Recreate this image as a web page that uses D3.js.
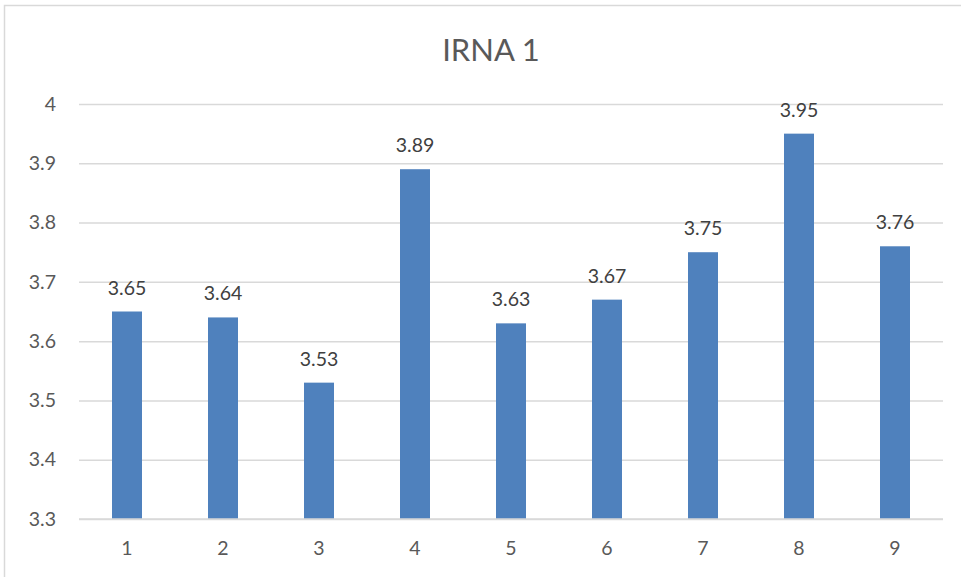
<!DOCTYPE html>
<html><head><meta charset="utf-8">
<script src="https://cdn.jsdelivr.net/npm/d3@7"></script>
<style>html,body{margin:0;padding:0;background:#fff;}svg{display:block;}</style>
</head><body>
<svg id="chart" width="961" height="577"></svg>
<script>
const categories = ["1","2","3","4","5","6","7","8","9"];
const values = [3.65, 3.64, 3.53, 3.89, 3.63, 3.67, 3.75, 3.95, 3.76];
const yTicks = [3.3, 3.4, 3.5, 3.6, 3.7, 3.8, 3.9, 4];
const title = "IRNA 1";

(function(){
const svg = d3.select("#chart");
const font = "Lato, 'Open Sans', sans-serif";
const pLeft = 79, pRight = 943, pTop = 104, pBottom = 519;

svg.append("rect").attr("x",4.5).attr("y",5.5).attr("width",970).attr("height",590)
  .attr("fill","#fff").attr("stroke","#d9d9d9").attr("stroke-width",1.5);

const x = d3.scaleBand().domain(categories).range([pLeft,pRight]).paddingInner(0.6875).paddingOuter(0.34375);
const y = d3.scaleLinear().domain([3.3,4]).range([pBottom,pTop]);

svg.append("text").attr("x",491).attr("y",61).attr("text-anchor","middle")
  .attr("font-family",font).attr("font-size",31).attr("fill","#595959").text(title);

const yAxis = svg.append("g").attr("transform",`translate(${pLeft},0)`)
  .call(d3.axisLeft(y).tickValues(yTicks).tickSize(-(pRight-pLeft)).tickPadding(23).tickFormat(d3.format("")));
yAxis.select(".domain").remove();
yAxis.selectAll(".tick line").attr("stroke","#d9d9d9").attr("stroke-width",1.5);
yAxis.selectAll(".tick text").attr("font-family",font).attr("font-size",19.5).attr("fill","#595959");

svg.selectAll(".bar").data(values).enter().append("rect")
  .attr("x",(d,i)=>x(categories[i])).attr("width",x.bandwidth())
  .attr("y",d=>y(d)).attr("height",d=>pBottom-y(d)).attr("fill","#4f81bd");

svg.append("line").attr("x1",pLeft).attr("x2",pRight).attr("y1",pBottom).attr("y2",pBottom)
  .attr("stroke","#d9d9d9").attr("stroke-width",1.5);

const xAxis = svg.append("g").attr("transform",`translate(0,${pBottom})`)
  .call(d3.axisBottom(x).tickSize(0).tickPadding(22));
xAxis.select(".domain").remove();
xAxis.selectAll(".tick text").attr("font-family",font).attr("font-size",19.5).attr("fill","#595959");

svg.selectAll(".lbl").data(values).enter().append("text")
  .attr("x",(d,i)=>x(categories[i])+x.bandwidth()/2).attr("y",d=>y(d)-17)
  .attr("text-anchor","middle").attr("font-family",font).attr("font-size",19.5).attr("fill","#404040")
  .text(d=>d3.format(".2f")(d));
})();
</script>
</body></html>
